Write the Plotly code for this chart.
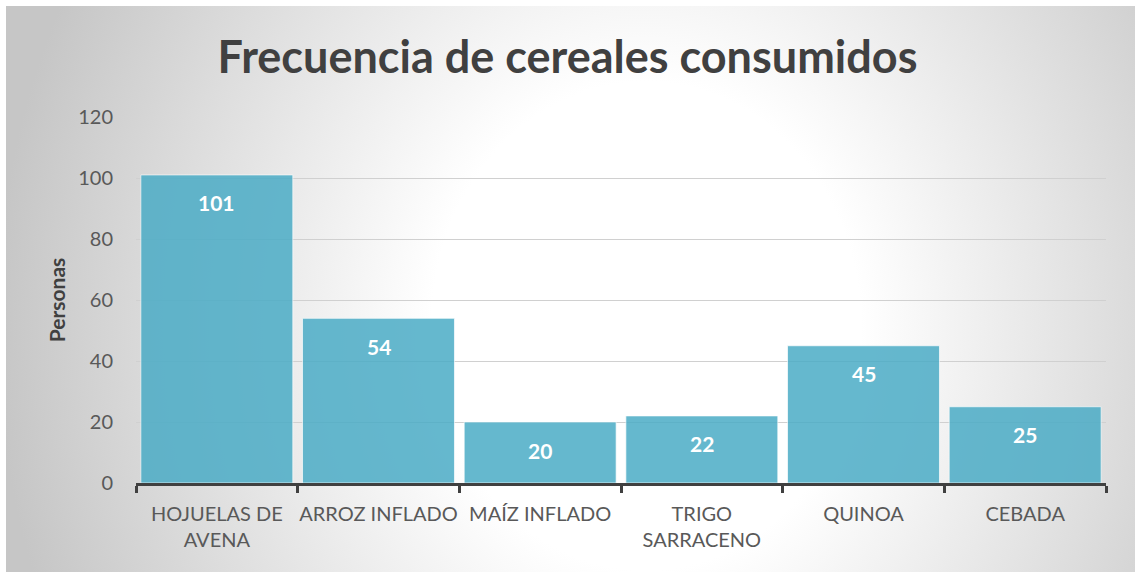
import base64
import plotly.graph_objects as go

categories = ["HOJUELAS DE<br>AVENA", "ARROZ INFLADO", "MAÍZ INFLADO", "TRIGO<br>SARRACENO", "QUINOA", "CEBADA"]
values = [101, 54, 20, 22, 45, 25]
y_ticks = [0, 20, 40, 60, 80, 100, 120]

W, H = 1135, 572
L, R, T, B = 136, 29, 117, 89
pw, ph = W - L - R, H - T - B

svg = (
    '<svg xmlns="http://www.w3.org/2000/svg" width="1129" height="566" viewBox="0 0 1129 566" preserveAspectRatio="none">'
    '<defs><radialGradient id="g" gradientUnits="userSpaceOnUse" cx="0" cy="0" r="1" '
    'gradientTransform="translate(640,320) scale(650,740)">'
    '<stop offset="0" stop-color="#ffffff"/><stop offset="0.33" stop-color="#ffffff"/>'
    '<stop offset="1" stop-color="#c6c6c6"/></radialGradient></defs>'
    '<rect width="1129" height="566" fill="url(#g)"/></svg>'
)
src = "data:image/svg+xml;base64," + base64.b64encode(svg.encode()).decode()

fig = go.Figure()
fig.add_trace(go.Bar(
    x=categories, y=values,
    marker=dict(color="#4bacc6", line=dict(color="rgba(255,255,255,0.7)", width=1)),
    opacity=0.85,
    width=0.94,
    hoverinfo="x+y",
))

for c, v in zip(categories, values):
    fig.add_annotation(x=c, y=v, text=f"<b>{v}</b>", showarrow=False, yshift=-28,
                       font=dict(family="Lato", size=21, color="white"))

fig.add_layout_image(dict(
    source=src, xref="paper", yref="paper",
    x=(6 - L) / pw, y=(H - B - 6) / ph,
    sizex=(W - 6) / pw, sizey=(H - 6) / ph,
    xanchor="left", yanchor="top", sizing="stretch", layer="below",
))

fig.update_layout(
    width=W, height=H,
    margin=dict(l=L, r=R, t=T, b=B, autoexpand=False),
    paper_bgcolor="white",
    plot_bgcolor="rgba(0,0,0,0)",
    title=dict(text="<b>Frecuencia de cereales consumidos</b>", x=0.5, xanchor="center",
               y=1 - 57 / H, yanchor="middle", automargin=False,
               font=dict(family="Lato", size=45, color="#404040")),
    showlegend=False,
    bargap=0.06,
    font=dict(family="Lato", color="#595959"),
)
fig.update_xaxes(
    type="category", tickson="boundaries", ticks="outside", ticklen=7, tickwidth=3,
    tickcolor="#404040", showline=True, linecolor="#404040", linewidth=3,
    showgrid=False, tickfont=dict(size=20, color="#595959"), ticklabelstandoff=11,
    tickangle=0, automargin=False,
)
fig.update_yaxes(
    range=[0, 120], tickvals=y_ticks, showgrid=True, gridcolor="#d0d0d0", gridwidth=1,
    zeroline=False, showline=False, ticks="", tickfont=dict(size=20, color="#595959"),
    ticklabelstandoff=22, automargin=False,
    title=dict(text="<b>Personas</b>", font=dict(family="Lato", size=21, color="#404040"), standoff=6),
)

fig.write_html("out.html", config={"displayModeBar": False},
               post_script="document.body.style.margin='0';")
